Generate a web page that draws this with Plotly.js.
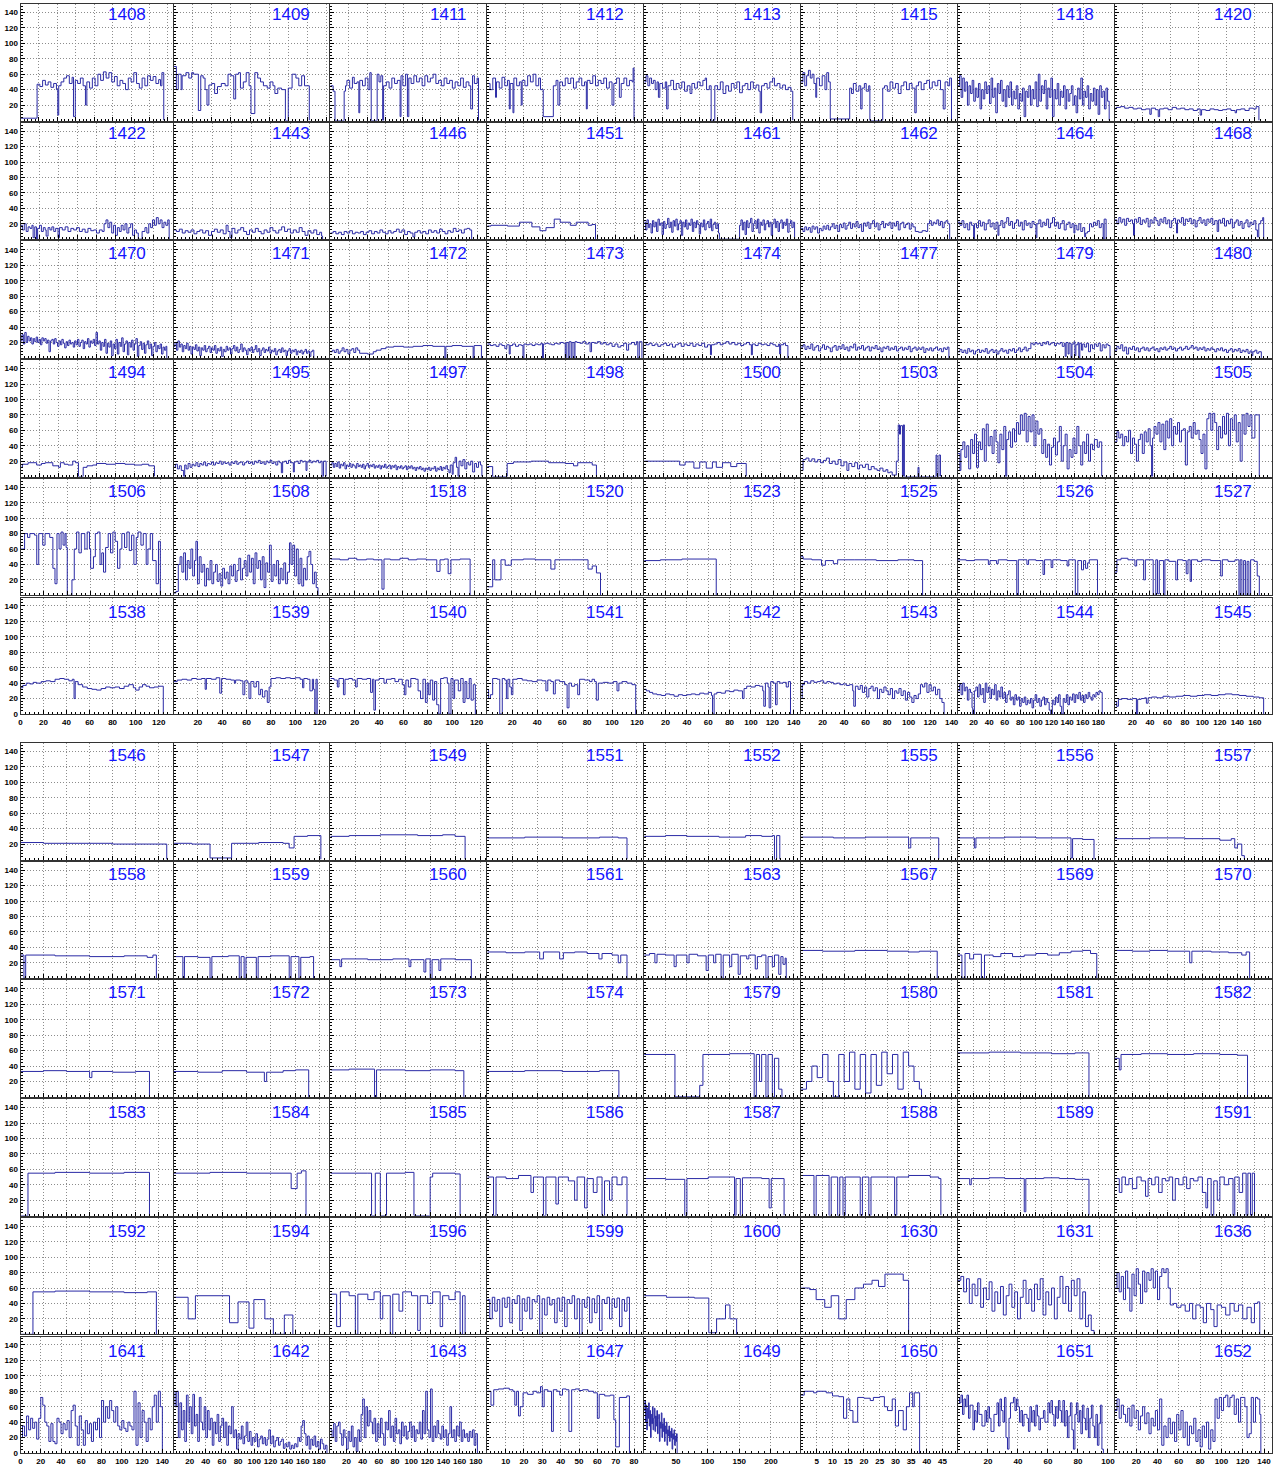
<!DOCTYPE html>
<html><head><meta charset="utf-8">
<script src="https://cdn.plot.ly/plotly-3.0.1.min.js"></script>
<style>html,body{margin:0;padding:0;background:#fff}#chart{width:1277px;height:1465px}</style>
</head><body><div id="chart"></div>
<script>
// ---- histogram data: [bin low edge, content] steps, last point closes to 0 ----
const h1408=[[0,3],[18,47],[21,44],[24,52],[27,46],[30,50],[33,43],[36,48],[39,40],[40.5,7],[41.5,45],[44,50],[47,55],[50,58],[53,48],[56,56],[57.5,5],[59.5,52],[62,48],[65,55],[68,45],[70.5,20],[72,50],[75,42],[78,55],[81,45],[84,60],[87,52],[90,63],[93,55],[96,62],[99,50],[102,57],[105,45],[108,52],[111,48],[114,40],[117,55],[120,50],[123,62],[126,48],[129,42],[132,55],[135,45],[138,58],[141,52],[144,57],[147,48],[150,53],[152,45],[153.5,62],[155.5,0]];
const h1409=[[0,70],[3,40],[5,60],[8,40],[9,58],[13,62],[16,55],[19,62],[21,60],[26,13],[28.5,58],[31,55],[33,40],[35,20],[37,46],[40,48],[43,35],[46,44],[50,48],[54,45],[57,60],[60,58],[63,28],[65,60],[68,62],[70,42],[73,50],[76,62],[79,45],[81,9],[85,62],[88,55],[91,50],[94,45],[98,42],[101,50],[104,45],[106,35],[109,42],[113,40],[117,0],[120,42],[124,60],[128,55],[131,45],[134,58],[137,45],[142,0]];
const h1411=[[0,45],[3,38],[5,0],[15,38],[16.5,45],[18,52],[21,42],[24,56],[26,48],[29,50],[31,10],[32,52],[35,45],[38,55],[41,40],[43,62],[44.5,0],[51,60],[53,50],[55,58],[57,0],[58,45],[61,50],[64,42],[67,55],[70,48],[73,52],[76,5],[77,58],[79,45],[82,60],[84,5],[85.5,55],[88,48],[91,58],[94,50],[97,55],[100,45],[103,58],[106,50],[109,55],[112,60],[115,48],[118,52],[121,45],[124,55],[127,48],[130,52],[133,42],[136,50],[139,45],[142,55],[145,43],[148,50],[151,45],[153,15],[155,58],[157,48],[160,55],[161.5,0]];
const h1412=[[0,48],[3,40],[6,55],[9,30],[10,50],[13,42],[16,56],[19,45],[22,52],[24,15],[25,48],[28,10],[29,55],[32,45],[35,50],[37,20],[38,52],[41,45],[44,58],[47,50],[50,60],[53,45],[56,55],[58,40],[61,5],[72,45],[75,52],[77,20],[79,50],[82,45],[85,55],[88,48],[91,55],[94,42],[97,50],[100,55],[103,45],[106,50],[108,15],[109,52],[112,48],[115,58],[118,45],[121,52],[124,48],[127,55],[130,42],[133,50],[136,20],[138,48],[141,55],[144,30],[146,48],[149,55],[152,45],[155,52],[158,50],[159,68],[160,0]];
const h1413=[[0,50],[2,58],[4,45],[6,55],[8,48],[10,52],[12,40],[14,50],[15.5,30],[17,48],[20,42],[23,50],[24.5,15],[26,45],[29,52],[32,40],[35,48],[38,42],[41,50],[44,38],[47,45],[50,35],[52,48],[55,42],[58,50],[61,45],[64,52],[66.5,55],[68,40],[71,45],[73,0],[77,45],[80,40],[83,50],[86,35],[89,45],[92,38],[95,48],[98,42],[101,50],[104,36],[107,45],[110,48],[113,40],[116,50],[119,42],[122,46],[125,38],[126.5,10],[128,45],[131,48],[134,42],[137,50],[140,55],[142,45],[145,48],[148,42],[151,46],[154,40],[157,43],[160,38],[162,0]];
const h1415=[[0,50],[2,62],[4,45],[6,58],[8,65],[10,55],[12,60],[14,48],[16,30],[17,55],[20,45],[23,58],[26,40],[28,62],[30,50],[31.8,2],[53,42],[55,35],[57,48],[60,38],[63,45],[65,15],[66.5,42],[69,48],[71,38],[73.7,45],[75,0],[89,42],[91,45],[94,38],[97,50],[100,42],[103,48],[106,35],[109,45],[112,50],[115,40],[118,48],[121,42],[124,10],[125.5,45],[128,50],[131,40],[134,48],[137,52],[140,42],[143,50],[146,45],[149,52],[152,40],[155,15],[157,50],[160,45],[162,55],[164,0]];
const h1418=[[0,45],[1,58],[2,30],[3,55],[4,38],[5,50],[6,20],[7,45],[8,35],[9,52],[10,25],[11,42],[12,30],[13,48],[14,15],[15,40],[16,28],[17,50],[18,35],[19,45],[20,22],[21,55],[22,30],[23,42],[24,10],[25,48],[26,35],[27,52],[28,25],[29,40],[30,18],[31,45],[32,30],[33,50],[34,20],[35,38],[36,28],[37,45],[38,15],[39,35],[40,25],[41,42],[42,5],[43,38],[44,30],[45,45],[46,20],[47,40],[48,28],[49,50],[50,18],[51,60],[52,25],[53,45],[54,35],[55,52],[56,15],[57,42],[58,30],[59,55],[60,5],[61,40],[62,28],[63,48],[64,20],[65,38],[66,30],[67,45],[68,15],[69,40],[70,25],[71,35],[72,45],[73,20],[74,32],[75,10],[76,42],[77,28],[78,55],[79,20],[80,38],[81,30],[82,45],[83,15],[84,35],[85,25],[86,42],[87,20],[88,40],[89,8],[90,45],[91,30],[92,38],[93,15],[94,42],[95,25],[96,0]];
const h1420=[[0,15],[1,17],[4,18],[7,16],[10,17],[13,15],[16,16],[19,14],[22,15],[25,8],[26,16],[29,14],[31,5],[32,15],[35,16],[38,14],[41,17],[44,15],[47,16],[50,14],[53,15],[56,13],[59,15],[61,7],[62,14],[65,13],[68,15],[71,14],[74,13],[77,14],[80,15],[83,13],[86,10],[87,14],[90,15],[93,13],[96,16],[99,15],[101,18],[103,0]];
const h1422=[[0,18],[2,12],[4,20],[6,10],[8,16],[10,14],[12,18],[13.3,2],[15,16],[16.8,0],[18,14],[20,18],[22,10],[24,15],[26,12],[27,4],[29,15],[31,12],[33,16],[35,10],[37,14],[39.5,2],[41,15],[44,12],[47,16],[50,10],[53,14],[56,12],[59,15],[62,10],[65,13],[68,9],[71,14],[74,11],[77,12],[80,8],[83,12],[86,10],[88,20],[90,25],[92,15],[94,22],[96,8],[98,18],[100,5],[102,15],[104,10],[106,18],[108,12],[110,20],[112,8],[114,15],[116,20],[118,5],[120,12],[122,8],[124,0],[128,10],[131,15],[133,8],[135,20],[137,15],[139,25],[141,18],[143,28],[145,20],[147,25],[149,15],[151,22],[153,18],[155,25],[156.5,0]];
const h1443=[[0,12],[3,10],[6,13],[9,8],[12,11],[15,9],[18,12],[21,7],[24,10],[27,12],[30,8],[33,11],[36,5],[39,10],[42,13],[45,9],[48,12],[51,7],[54,18],[56,10],[58,2],[60,14],[63,8],[66,12],[69,15],[72,10],[75,6],[78,12],[81,9],[84,14],[87,10],[90,7],[93,12],[96,9],[99,15],[102,11],[105,8],[108,12],[111,16],[114,10],[117,13],[120,8],[123,12],[126,9],[129,15],[132,10],[135,5],[138,11],[141,8],[144,12],[147,6],[150,9],[152,4],[153,0]];
const h1446=[[0,8],[3,10],[6,7],[9,9],[12,6],[15,10],[18,8],[21,11],[24,7],[27,9],[30,8],[33,10],[36,6],[39,9],[42,11],[45,7],[48,10],[51,8],[54,12],[57,9],[60,7],[63,11],[66,8],[69,10],[72,13],[75,9],[78,12],[81,6],[84,10],[87,8],[90,3],[92,9],[95,11],[98,8],[101,10],[104,7],[107,12],[110,9],[113,11],[116,8],[119,13],[122,10],[125,7],[128,11],[131,9],[134,14],[137,10],[140,12],[143,8],[146,13],[149,14],[152,12],[154,0]];
const h1451=[[0,17],[4,18],[22,17],[35,22],[48.6,16],[57.4,11],[64,15],[73,26],[79.5,22],[90.5,18],[97,22],[110,18],[114,19],[118,0]];
const h1461=[[0,22],[1.5,12],[3,25],[4.5,15],[6,20],[7.5,8],[9,24],[10.5,16],[12,22],[13.5,10],[15,26],[16.5,18],[18,21],[19.5,6],[21,23],[22.5,14],[24,19],[25.5,27],[27,15],[28.5,22],[30,9],[31.5,24],[33,17],[34.5,26],[36,12],[37.5,20],[39,24],[40.5,5],[42,22],[43.5,16],[45,25],[46.5,13],[48,21],[49.5,18],[51,26],[52.5,10],[54,22],[55.5,15],[57,24],[58.5,19],[60,7],[61.5,21],[63,16],[64.5,25],[66,12],[67.5,20],[69,23],[70.5,15],[72,26],[73.5,11],[75,19],[76.5,22],[78,14],[79.5,20],[81,8],[82,0],[104,18],[105.5,25],[107,12],[108.5,22],[110,6],[111.5,24],[113,15],[114.5,21],[116,27],[117.5,10],[119,20],[120.5,24],[122,14],[123.5,26],[125,8],[126.5,22],[128,18],[129.5,25],[131,12],[132.5,20],[134,24],[135.5,16],[137,22],[138.5,5],[140,20],[141.5,26],[143,15],[144.5,23],[146,10],[147.5,21],[149,25],[150.5,14],[152,22],[153.5,18],[155,26],[156.5,9],[158,20],[159.5,24],[161,15],[162.5,22],[164,0]];
const h1462=[[0,14],[2,10],[4,16],[6,12],[8,15],[10,9],[12,17],[14,13],[16,16],[18,8],[20,14],[22,11],[24,17],[26,13],[28,18],[30,12],[32,16],[34,20],[36,14],[38,18],[40,10],[42,19],[44,15],[46,21],[48,13],[50,18],[52,22],[54,14],[56,20],[58,16],[60,23],[62,15],[64,19],[66,10],[68,21],[70,17],[72,22],[74,14],[76,20],[78,24],[80,16],[82,21],[84,12],[86,19],[88,23],[90,15],[92,20],[94,18],[96,22],[98,14],[100,21],[102,17],[104,23],[106,12],[108,20],[110,22],[112,15],[114,19],[116,21],[118,13],[120,20],[122,16],[124.5,10],[128,9],[132,11],[136,10],[138,20],[140,24],[142,18],[144,22],[146,20],[148,25],[150,18],[152,23],[154,15],[156,22],[158,24],[160,20],[162,0]];
const h1464=[[0,22],[2,18],[4,24],[6,15],[8,20],[10,12],[12,22],[14,18],[16,0],[17,20],[19,15],[21,24],[23,17],[25,22],[27,12],[29,20],[31,25],[33,16],[35,21],[37,13],[39,22],[41,5],[42,18],[44,24],[46,15],[48,22],[50,28],[52,18],[54,23],[56,14],[58,21],[60,25],[62,17],[64,22],[66,12],[68,24],[70,18],[72,21],[74,15],[76,23],[78,19],[80,2],[81,20],[83,25],[85,16],[87,22],[89,18],[91,26],[93,15],[95,21],[97,28],[99,17],[101,22],[103,14],[105,20],[107,24],[109,12],[111,19],[113,22],[115,15],[117,20],[119,8],[120,18],[122,12],[124,20],[126,10],[128,15],[130,3],[131,8],[133,10],[135,20],[137,16],[139,22],[141,18],[143,24],[145,15],[147,20],[149,0],[150,26],[152,0]];
const h1468=[[0,25],[2,20],[4,28],[6,22],[8,26],[10,18],[12,27],[14,23],[16,25],[18,20],[19,5],[20,26],[22,22],[24,28],[26,19],[28,25],[30,22],[32,27],[34,16],[36,25],[38,21],[40,28],[42,24],[44,18],[46,26],[48,22],[50,28],[52,20],[54,25],[56,15],[58,24],[60,27],[62,21],[63,8],[64,25],[66,22],[68,28],[70,18],[72,26],[74,23],[76,27],[78,20],[80,25],[82,16],[84,24],[86,28],[88,21],[90,25],[92,18],[94,26],[96,22],[98,27],[100,19],[102,24],[104.5,10],[106,25],[108,21],[110,27],[112,17],[114,24],[116,20],[118,26],[120,15],[122,22],[124,25],[126,18],[128,23],[130,14],[132,21],[134,25],[136,16],[138,22],[140,19],[142,24],[144,12],[145.6,3],[147,20],[149,24],[151,28],[152,0]];
const h1470=[[0,22],[1.5,30],[3,18],[4.5,33],[6,20],[7.5,28],[9,22],[10.5,26],[12,18],[13.5,25],[15,21],[16.5,27],[18,20],[19.5,24],[21,17],[22.5,26],[24,22],[25.5,25],[27,19],[28.5,23],[30,8],[31.5,22],[33,24],[34.5,18],[36,25],[37.5,20],[39,15],[40.5,22],[42,17],[43.5,24],[45,19],[46.5,13],[48,21],[49.5,16],[51,23],[52.5,18],[54,20],[55.5,14],[57,22],[58.5,17],[60,24],[61.5,15],[63,20],[64.5,23],[66,12],[67.5,21],[69,18],[70.5,25],[72,14],[73.5,22],[75,19],[76.5,24],[78,16],[79.5,33],[81,18],[82.5,22],[84,10],[85.5,20],[87,15],[88.5,24],[90,6],[91.5,19],[93,14],[94.5,22],[96,3],[97.5,18],[99,12],[100.5,24],[102,5],[103.5,20],[105,15],[106.5,26],[108,8],[109.5,18],[111,22],[112.5,4],[114,20],[115.5,14],[117,23],[118.5,10],[120,18],[121.5,25],[123,2],[124.5,16],[126,21],[127.5,11],[129,19],[130.5,6],[132,17],[133.5,22],[135,12],[136.5,18],[138,3],[139.5,15],[141,20],[142.5,8],[144,16],[145.5,12],[147,18],[148.5,5],[150,14],[151.5,10],[153,15],[154,0]];
const h1471=[[0,15],[1.5,20],[3,10],[4.5,22],[6,14],[7.5,18],[9,8],[10.5,16],[12,12],[13.5,19],[15,10],[16.5,15],[18,5],[19.5,14],[21,11],[22.5,17],[24,9],[25.5,14],[27,3],[28.5,13],[30,10],[31.5,16],[33,8],[34.5,12],[36,15],[37.5,7],[39,13],[40.5,10],[42,16],[43.5,6],[45,12],[46.5,9],[48,14],[49.5,2],[51,11],[52.5,8],[54,15],[55.5,10],[57,13],[58.5,5],[60,12],[61.5,16],[63,9],[64.5,14],[66,7],[67.5,11],[69,18],[70.5,8],[72,13],[73.5,10],[75,4],[76.5,12],[78,9],[79.5,14],[81,7],[82.5,11],[84,16],[85.5,8],[87,12],[88.5,3],[90,10],[91.5,13],[93,7],[94.5,11],[96,9],[97.5,14],[99,6],[100.5,10],[102,8],[103.5,12],[105,4],[106.5,9],[108,11],[109.5,7],[111,13],[112.5,8],[114,10],[115.5,3],[117,9],[118.5,12],[120,6],[121.5,10],[123,8],[124.5,11],[126,4],[127.5,9],[129,7],[130.5,10],[132,5],[133.5,8],[135,11],[136.5,6],[138,9],[139.5,2],[141,8],[142.5,10],[144,0]];
const h1472=[[0,8],[2,10],[4,7],[6,11],[8,6],[10,9],[12,13],[14,8],[16,11],[18,5],[20,10],[22,12],[24,7],[26,13],[28,10],[30,6],[38,5],[44,8],[47,10],[52,12],[57,14],[65,15],[75,14],[85,15],[95,16],[105,15],[117.5,0],[118.5,15],[125,16],[135,15],[146.5,0],[147.5,16],[155,0]];
const h1473=[[0,18],[3,16],[6,17],[9,15],[12,18],[15,16],[18,12],[20,17],[22.5,5],[23.5,16],[26,18],[29,15],[32,17],[35,16],[36.6,0],[37.6,18],[40,17],[43,18],[46,16],[49,18],[52,17],[55,19],[56.6,0],[57.6,18],[60,19],[63,18],[66,17],[69,19],[72,18],[75,20],[78,19],[80,0],[81,20],[83,0],[84,21],[86,0],[87,20],[89,0],[90,21],[92,20],[95,19],[98,21],[101,18],[104,20],[105.5,8],[107,20],[110,19],[113,21],[116,18],[119,20],[122,17],[125,19],[128,15],[131,18],[134,14],[137,16],[140,19],[143,10],[145,18],[148,20],[151,17],[153,21],[154.5,0],[156,21],[158.7,0]];
const h1474=[[0,20],[2,17],[5,19],[8,16],[11,18],[14,15],[17,17],[20,19],[23,16],[26,18],[29,14],[32,17],[35,19],[38,15],[41,18],[44,16],[47,19],[50,15],[53,18],[56,16],[59,19],[62,14],[65,17],[68,4],[69,17],[72,18],[75,20],[78,17],[81,19],[84,21],[87,18],[90,20],[93,17],[96,19],[99,16],[102,18],[105,20],[108,17],[110,4],[111,18],[114,16],[117,19],[120,17],[123,18],[126,16],[129,19],[132,17],[135,15],[138,18],[139,5],[140,17],[143,19],[145,16],[147.5,0]];
const h1477=[[0,14],[2,17],[4,11],[6,15],[8,12],[10,18],[12,10],[14,14],[16,16],[18,9],[20,13],[22,17],[24,11],[26,15],[28,13],[30,8],[32,14],[34,16],[36,10],[38,15],[40,12],[42,17],[44,11],[46,14],[48,9],[50,15],[52,13],[54,18],[56,10],[58,14],[60,12],[62,16],[64,10],[66,13],[68,15],[70,9],[72,14],[74,12],[76,16],[78,11],[80,13],[82,8],[84,14],[86,12],[88,15],[90,10],[92,13],[94,11],[96,15],[98,9],[100,12],[102,14],[104,10],[106,13],[108,11],[110,15],[112,8],[114,12],[116,14],[118,10],[120,13],[122,11],[124,14],[126,7],[128,12],[130,10],[132,13],[134,9],[136,12],[138,14],[140,10],[142,12],[144,8],[146,13],[148,11],[150,14],[151.7,0]];
const h1479=[[0,8],[2,11],[4,7],[6,10],[8,6],[10,12],[12,8],[14,10],[16,5],[18,9],[20,11],[22,7],[24,10],[26,8],[28,12],[30,6],[32,9],[34,11],[36,7],[38,10],[40,5],[42,9],[44,12],[46,8],[48,10],[50,6],[52,11],[54,9],[56,12],[58,7],[60,10],[62,13],[64,8],[66,11],[68,14],[70,9],[72,12],[74.8,19],[77,17],[79,20],[81,18],[83,19],[85,16],[87,20],[89,18],[91,21],[93,17],[95,19],[97,20],[99,16],[101,19],[103,18],[105,20],[107,15],[109,19],[110,2],[111,20],[113,5],[114,19],[116,0],[117,18],[119,21],[120,3],[121,17],[123,20],[124,0],[125,19],[126.8,10],[128,18],[130,14],[132,19],[134,8],[136,17],[138,12],[140,18],[142,15],[144,19],[146,9],[148,17],[150,13],[152,18],[154,16],[156,0]];
const h1480=[[0,10],[2,15],[4,12],[6,17],[8,9],[10,14],[12,5],[14,13],[16,11],[18,15],[20,10],[22,13],[24,8],[26,12],[28,14],[30,10],[32,13],[34,9],[36,12],[38,14],[40,10],[42,12],[44,8],[46,13],[48,11],[50,14],[52,10],[54,12],[56,15],[58,11],[60,13],[62,9],[64,12],[66,14],[68,10],[70,12],[72,15],[74,11],[76,13],[78,16],[80,12],[82,14],[84,10],[86,13],[88,11],[90,14],[92,9],[94,12],[96,10],[98,13],[100,11],[102,8],[104,12],[106,10],[108,13],[110,9],[112,11],[114,7],[116,10],[118,12],[120,8],[122,11],[124,9],[126,12],[128,7],[130,10],[132,8],[134,11],[136,6],[138,9],[140,3],[141,8],[143,10],[145,6],[147,8],[149.6,0]];
const h1494=[[0,12],[2,16],[8,18],[17,15],[22,17],[26,18],[34,14],[40,12],[42,18],[46,16],[50,15],[55,20],[58,18],[61,0],[66,12],[70,14],[76,15],[80,17],[90,16],[100,17],[110,16],[120,15],[128,16],[135,14],[141,0]];
const h1495=[[0,12],[2,16],[4,10],[6,14],[8,8],[10.4,0],[11.5,15],[13,10],[15,17],[17,12],[19,16],[21,14],[23,18],[25,13],[27,17],[29,15],[31,19],[33,14],[35,17],[37,16],[39,19],[41,15],[43,18],[45,17],[47,20],[49,16],[51,19],[53,17],[55,18],[57,15],[59,19],[61,17],[63,20],[65,16],[67,18],[69,19],[71,15],[73,18],[75,20],[77,17],[79,19],[81,16],[83,20],[85,18],[87,21],[89,17],[91,19],[93,16],[95,20],[97,18],[99,21],[101,17],[103,19],[105,15],[107,20],[109,18],[110.7,5],[112,19],[114,20],[116,17],[118,21],[120,18],[123,6],[124,19],[126,20],[128,17],[130,21],[132,19],[134,20],[136,8],[137,19],[139,21],[141,18],[143,20],[145,19],[147,21],[149,18],[151,20],[152.5,0],[154,20],[156.6,0]];
const h1497=[[0,15],[1.5,18],[3,12],[4.5,17],[6,13],[7.5,19],[9,11],[10.5,16],[12,14],[13.5,18],[15,10],[16.5,15],[18,13],[19.5,17],[21,12],[22.5,16],[24,14],[25.5,11],[27,17],[28.5,13],[30,15],[31.5,12],[33,16],[34.5,10],[36,14],[37.5,17],[39,12],[40.5,15],[42,13],[43.5,16],[45,11],[46.5,14],[48,12],[49.5,15],[51,10],[52.5,14],[54,12],[55.5,16],[57,11],[58.5,13],[60,15],[61.5,10],[63,14],[64.5,12],[66,15],[67.5,9],[69,13],[70.5,11],[72,14],[73.5,10],[75,12],[76.5,14],[78,9],[79.5,13],[81,11],[82.5,14],[84,10],[85.5,12],[87,8],[88.5,12],[90,10],[91.5,13],[93,9],[94.5,11],[96,7],[97.5,11],[99,9],[100.5,12],[102,8],[103.5,11],[105,10],[106.5,13],[108,7],[109.5,11],[111,9],[112.5,13],[114,8],[115.5,12],[117,10],[118.5,14],[120,9],[121.7,5],[123,15],[125,3],[126,18],[128,25],[129.5,12],[131,0],[132,20],[134,14],[136,22],[138,10],[140,18],[142,15],[144,20],[146,6],[148,17],[150,12],[152,19],[154,15],[155.5,0]];
const h1498=[[0,13],[5.5,0],[20.4,17],[26.8,19],[45,20],[63,18],[80,17],[88.5,14],[92.8,18],[107.7,15],[112,0]];
const h1500=[[0,20],[36.4,15],[42,19],[51,11],[57,19],[63.7,11],[70,19],[74,12],[80.4,18],[88.8,13],[95,17],[104.7,0]];
const h1503=[[0,8],[2,22],[5,24],[8,20],[11,23],[14,19],[17,22],[20,18],[23,21],[26,24],[29,17],[32,20],[35,16],[38,22],[41,14],[44,19],[47,8],[49,17],[52,13],[55,18],[58,10],[60,15],[63,12],[66,16],[69,9],[72,13],[75,10],[78,8],[81,11],[84,7],[87,9],[89,5],[91,6],[93.5,2],[97.7,20],[99.7,67],[101,55],[102,66],[104,0],[105,67],[106,0],[120,12],[121,0],[138.5,28],[139.5,0],[141.5,28],[143,0]];
const h1504=[[0,30],[2,8],[3,35],[5,45],[7,25],[9,40],[11,10],[13,48],[15,30],[17,55],[19,12],[21,45],[23,35],[25,62],[27,20],[29,68],[31,40],[33,52],[35,30],[37,60],[39,45],[41,18],[43,55],[45,35],[47,65],[49,0],[50,48],[52,58],[54,38],[56,62],[58,45],[60,70],[62,55],[64,80],[66,60],[68,82],[70,45],[72,78],[74,58],[76,80],[78,40],[80,72],[82,55],[84,62],[86,30],[88,48],[90,25],[92,42],[94,15],[96,38],[98,50],[100,28],[102,45],[104,65],[106,20],[108,40],[110,55],[112,10],[114,35],[116,25],[118,50],[120,30],[122,65],[124,40],[126,15],[128,45],[130,30],[132,55],[134,20],[136,42],[138,35],[140,48],[143,38],[145,45],[147.5,0]];
const h1505=[[0,45],[2,58],[4,50],[6,55],[8,40],[10,52],[12,45],[14,60],[16,30],[18,50],[20,42],[22,20],[24,48],[26,55],[28,30],[30,58],[32,45],[34,62],[36,40],[37.5,0],[38.5,50],[40,65],[42,55],[44,70],[46,45],[48,68],[50,35],[52,72],[54,50],[56,75],[58,40],[60,65],[62,55],[64,70],[66,45],[68,60],[70,62],[72,15],[74,58],[76,65],[78,50],[80,70],[82,55],[84,60],[86,48],[88,30],[90,55],[92,10],[94,75],[96,82],[98,60],[100,82],[102,70],[104,35],[106,65],[108,50],[110,78],[112,55],[114,82],[116,40],[118,75],[120,60],[122,80],[124,45],[126,70],[128,20],[130,80],[132,55],[134,82],[136,65],[138,80],[140,50],[143,80],[147.5,0]];
const h1506=[[0,60],[3.5,80],[6,75],[8,80],[12,78],[13.9,40],[15.6,80],[19,65],[21,80],[25,75],[27.7,35],[29.5,15],[31.2,80],[33,60],[34.7,82],[36.4,65],[38,80],[39,62],[40,0],[44,20],[46,60],[48,82],[50,55],[52,80],[55,60],[57,82],[59,60],[60,35],[62.4,50],[64,80],[66,82],[68,40],[69.5,55],[71,30],[72.8,62],[75,80],[77,55],[79,82],[81,70],[83,35],[85,60],[86.7,80],[89,62],[91,82],[93,58],[95,78],[97,40],[99,75],[100.5,82],[103,65],[105,80],[107.5,40],[109,60],[111,80],[113,45],[116,15],[118,70],[119.6,0]];
const h1508=[[0,3],[2,5],[4,40],[5.5,50],[7,30],[8.5,55],[10,20],[11.5,45],[13,35],[14.5,60],[16,25],[17.5,45],[18.7,70],[20,15],[21.5,50],[23,30],[24.5,40],[26,12],[27.5,35],[29,20],[30.5,45],[32,15],[33.5,30],[35,40],[36.5,18],[38,28],[39.5,12],[41,35],[42.5,22],[44,30],[45.5,15],[47,38],[48.5,25],[50,40],[51.5,18],[53,32],[54.5,48],[56,20],[57.5,35],[59,45],[60.5,25],[62,52],[63.5,30],[65,48],[66.5,15],[68,55],[69.5,35],[71,45],[72.5,20],[74,50],[75.5,10],[77,42],[78.5,30],[80,65],[81.5,18],[83,40],[84.5,25],[86,45],[87.5,15],[89,35],[90.5,20],[92,42],[93.5,15],[95,30],[96.7,68],[98,40],[99.5,65],[101,25],[102.5,60],[104,15],[105.5,48],[107,12],[108.5,35],[110,20],[111.5,50],[113,57],[114.5,40],[116,15],[117.5,30],[119,10],[120.5,0]];
const h1518=[[0,47],[8,46],[15,48],[22,46],[30,47],[36,46],[43,8],[44.7,47],[50,46],[58,48],[65,46],[72,47],[80,46],[88.7,31],[91.4,46],[95,47],[98.2,28],[100.5,46],[108,47],[116.5,0]];
const h1520=[[0,11],[4.5,46],[6.2,20],[11.4,46],[14.9,39],[20,46],[30,47],[40,46],[53,34],[56.4,46],[70,46],[84,34],[87.5,38],[91,29],[94.4,0]];
const h1523=[[0,45],[15,46],[35,47],[67,0]];
const h1525=[[0,50],[2,47],[10,46],[19,39],[22.6,45],[30,41],[34,46],[50,46],[70,45],[90,46],[105,45],[113,0]];
const h1526=[[0,46],[10,45],[20,46],[37,40],[39,45],[47,41],[49,46],[60,45],[71.6,0],[73.5,46],[84,40],[86,46],[95,45],[103.6,27],[105.5,46],[113.5,36],[115.5,46],[125,45],[133,38],[135,46],[143,0],[146,45],[150.5,33],[153,45],[155.5,35],[158,42],[160,46],[170,0]];
const h1527=[[0,30],[2.3,46],[7,48],[15,46],[23,38],[25,46],[33,20],[35,46],[44,0],[47,46],[49,2],[51,45],[56,0],[57.5,46],[62,44],[70,20],[72,46],[78,45],[82,28],[84,46],[86.5,18],[88,46],[95,44],[100,46],[110,45],[121.6,25],[123.5,46],[130,44],[138,46],[142.6,0],[144,46],[146,0],[148,45],[150,0],[152,44],[154,0],[156,46],[160,44],[163.6,25],[166,0]];
const h1538=[[0,34],[2,37],[5,40],[8,39],[11,41],[14,40],[18,42],[22,43],[26,42],[30,45],[34,46],[38,45],[42,43],[45,45],[46.5,20],[47.5,42],[50,38],[54,35],[58,33],[62,32],[66,31],[70,33],[74,35],[78,34],[82,35],[86,33],[90,36],[94,38],[98,34],[100,31],[103,35],[106,38],[109,36],[112,34],[116,35],[120,36],[124,0]];
const h1539=[[0,42],[3,44],[7,45],[11,44],[15,46],[19,45],[23,46],[26,32],[27,46],[31,45],[35,47],[38,27],[39.5,46],[43,45],[47,44],[50,40],[51,44],[55,43],[57,25],[58.5,43],[61,40],[62,20],[63.5,42],[66,35],[68,42],[70,25],[71.5,32],[73,22],[75,30],[77,15],[78.5,35],[80,46],[84,47],[88,46],[92,47],[96,46],[100,47],[104,45],[106,34],[107,46],[110,45],[112,30],[114,45],[115,32],[116,0],[117,45],[118,0]];
const h1540=[[0,46],[3,44],[5.7,35],[7,46],[10.7,25],[12,45],[15,46],[18,44],[20.7,35],[22,46],[26,45],[30,46],[33,28],[34.5,45],[35.7,5],[37,44],[40,46],[44,40],[46,45],[50,46],[53,42],[56,45],[59,38],[60.7,25],[62,44],[64,35],[66,46],[70,45],[72,30],[74,20],[76,45],[78,15],[79.5,40],[80.7,25],[82,44],[84,18],[85.5,42],[87.3,12],[89,0],[90.5,46],[93,47],[96,40],[97.3,0],[99,46],[100.7,20],[102,44],[105,30],[107,46],[109,15],[110.5,42],[112,20],[114,46],[115.5,18],[117.3,38],[119,0]];
const h1541=[[0,32],[1,20],[2.5,25],[4.3,46],[8,45],[10,0],[12,46],[14,44],[15.3,20],[16.5,45],[18,35],[19.3,25],[20.5,45],[24,46],[28,44],[32,43],[36,42],[40,44],[44,43],[47,30],[48.5,44],[51,42],[53,26],[54.5,44],[58,42],[62,38],[64,8],[65.5,40],[67.5,36],[70,38],[72.5,25],[74,45],[78,44],[82,42],[84,45],[86,42],[87.4,18],[89,40],[93,41],[97,40],[101,42],[104,30],[105.5,40],[108,42],[112,40],[116,38],[119,0]];
const h1542=[[0,32],[2,30],[5,28],[8,26],[12,25],[16,24],[20,26],[24,25],[28,23],[32,25],[36,24],[40,25],[44,26],[48,25],[52,27],[56,26],[60,28],[63,24],[64,0],[65.5,26],[68,28],[72,27],[76,30],[80,29],[84,31],[88,30],[92,20],[93.5,33],[96,36],[100,35],[104,37],[108,36],[111,30],[112,10],[113.5,40],[116,35],[117,8],[118.5,42],[121,40],[123,12],[124.5,42],[127,40],[130,41],[133,35],[135,42],[137,0]];
const h1543=[[0,20],[1,38],[3,42],[6,40],[9,43],[12,41],[15,42],[18,43],[21,40],[24,42],[27,41],[30,39],[33,40],[36,38],[39,39],[42,37],[45,38],[48,30],[49,10],[50.5,36],[53,32],[55,37],[57,28],[59,35],[61,22],[63,33],[65,36],[67,30],[69,34],[71,20],[73,32],[75,28],[77,35],[79,30],[81,25],[83,33],[85,20],[87,30],[89,27],[91,33],[93,24],[95,30],[97,18],[99,28],[101,22],[103,15],[105,24],[107,20],[109,26],[111,38],[113,35],[115,40],[117,28],[119,38],[121,30],[123,35],[125,25],[127,32],[129,20],[131,15],[133,0]];
const h1544=[[0,30],[2,38],[4,25],[6,40],[8,30],[10,35],[12,18],[14,32],[16,28],[18,8],[19,0],[21,30],[23,35],[25,22],[27,38],[29,25],[31,33],[33,15],[35,40],[37,28],[39,35],[41,20],[43,32],[45,25],[47,38],[49,18],[51,30],[53,22],[55,35],[57,20],[59,28],[61,15],[63,25],[65,30],[67,18],[69,22],[71,12],[73,25],[75,18],[77,22],[79,10],[81,20],[83,15],[85,22],[87,12],[89,18],[91,14],[93,20],[95,8],[97,18],[99,25],[101,15],[103,20],[105,10],[107,18],[109,22],[111,12],[113,20],[115,15],[117,5],[119,0],[121,18],[123,12],[125,22],[127,15],[129,25],[131,10],[133,0],[135,20],[137,15],[139,25],[141,12],[143,22],[145,18],[147,26],[149,15],[151,25],[153,20],[155,28],[157,18],[159,24],[161,15],[163,25],[165,20],[167,28],[169,22],[171,18],[173,25],[175,22],[177,28],[179,25],[181,30],[183,28],[185,0]];
const h1545=[[0,16],[2,10],[4,19],[8,20],[14,19],[20,20],[24.6,0],[26,19],[30,20],[34,21],[36,14],[38,21],[42,22],[48,21],[55,23],[62,22],[70,23],[78,24],[86,23],[94,24],[102,25],[110,24],[118,25],[126,26],[134,25],[142,24],[150,23],[158,22],[165,21],[170,0]];
const h1546=[[0,22],[20,21],[50,21],[80,20],[110,20],[127,0]];
const h1547=[[0,21],[15,20],[30,2],[47.7,21],[70,22],[90,21],[95,15],[99,30],[110,31],[121,0]];
const h1549=[[0,30],[15,31],[40,32],[70,31],[90,32],[100,30],[108,0]];
const h1551=[[0,28],[30,29],[60,28],[90,29],[105,28],[112,0]];
const h1552=[[0,30],[20,31],[40,30],[70,29],[95,31],[110,30],[120,31],[122,0],[124,31],[127,0]];
const h1555=[[0,29],[30,28],[60,29],[100,15],[102,28],[128,0]];
const h1556=[[0,28],[21,15],[23,28],[60,29],[100,28],[145,2],[147,27],[160,26],[174.5,0]];
const h1557=[[0,27],[40,28],[80,27],[120,25],[133,27],[137,15],[140,20],[145,5],[148,0]];
const h1558=[[0,30],[3,0],[4.5,30],[30,29],[60,28],[90,29],[110,27],[115,30],[118,0]];
const h1559=[[0,28],[7.7,0],[9,28],[20,27],[30,0],[31.5,28],[45,29],[54,0],[55.5,28],[58,0],[59.5,27],[68,0],[69.5,28],[80,29],[95,0],[96.5,28],[103,0],[104.5,27],[112,28],[115,0]];
const h1560=[[0,24],[7.6,15],[9,25],[30,24],[50,25],[63,15],[64.5,24],[75,8],[76.5,25],[80,0],[81.5,24],[87,10],[88.5,25],[100,24],[113,0]];
const h1561=[[0,34],[15,33],[30,34],[42,25],[45,34],[58,25],[61,33],[70,34],[80,32],[89.5,25],[92,32],[100,30],[105,20],[107,30],[112,0]];
const h1563=[[0,30],[5,32],[10,20],[12,31],[20,30],[28,15],[30,30],[40,20],[42,31],[50,29],[58,10],[60,30],[65,20],[67,31],[72,0],[74,30],[80,15],[82,31],[88,5],[90,29],[96,25],[98,30],[104,12],[106,28],[110,30],[114,0],[116,28],[120,15],[122,30],[126,5],[128,28],[130,18],[132,26],[133,0]];
const h1567=[[0,36],[20,35],[50,36],[80,35],[100,34],[110,35],[126.6,0]];
const h1569=[[0,30],[5,0],[9,32],[15,25],[20,31],[30,0],[34,30],[45,28],[55,32],[70,28],[85,30],[100,32],[115,30],[130,33],[145,35],[160,36],[170,32],[178,0]];
const h1570=[[0,36],[20,35],[40,36],[60,35],[85.5,20],[88,35],[110,34],[130,33],[145,30],[150,34],[154,0]];
const h1571=[[0,33],[20,34],[40,33],[60,25],[62,33],[80,32],[100,33],[112,0]];
const h1572=[[0,33],[20,32],[40,34],[60,32],[74.6,20],[76.5,32],[90,34],[100,35],[111,0]];
const h1573=[[0,35],[15,36],[35.4,0],[37,35],[60,34],[80,35],[100,34],[107,0]];
const h1574=[[0,33],[30,34],[60,33],[90,34],[105.5,0]];
const h1579=[[0,55],[28.8,0],[52,15],[55,55],[80,56],[103,0],[105,55],[108,20],[110,55],[114,0],[116,55],[120,0],[122,50],[126,10],[129,0]];
const h1580=[[0,10],[5,20],[10,40],[15,25],[20,55],[25,20],[30,0],[35,55],[40,20],[45,58],[50,10],[55,55],[60,5],[65,55],[70,15],[75,58],[80,30],[85,55],[90,10],[95,58],[100,40],[105,20],[110,10],[112,0]];
const h1581=[[0,57],[40,58],[80,57],[120,56],[150,57],[168,0]];
const h1582=[[0,50],[5,35],[7,55],[30,56],[60,55],[90,56],[120,55],[140,54],[151.6,0]];
const h1583=[[0,0],[6.5,55],[30,56],[60,55],[90,56],[112,0]];
const h1584=[[0,55],[30,56],[60,55],[96.6,35],[101.5,55],[105,58],[108.8,0]];
const h1585=[[0,55],[30,55],[33,0],[36,55],[40,0],[45,55],[60,56],[67,0],[80,50],[82,55],[100,54],[104,0]];
const h1586=[[0,50],[5,0],[7,50],[15,48],[25,52],[35,30],[37,50],[45,0],[47,50],[55,15],[57,50],[65,45],[70,20],[72,50],[78,10],[80,48],[85,30],[88,50],[92,0],[94,45],[98,20],[100,50],[104,40],[108,50],[112,0]];
const h1587=[[0,48],[20,47],[38,0],[40,48],[60,50],[84.6,0],[86,48],[90,0],[92,49],[110,48],[117,10],[119,48],[131,0]];
const h1588=[[0,52],[12,0],[14,52],[26,0],[28,50],[34,0],[36,50],[39,0],[41,50],[55,0],[57,50],[63,0],[65,50],[87,0],[89,50],[100,52],[120,50],[128,48],[130,0]];
const h1589=[[0,48],[15,40],[17,48],[40,49],[60,48],[85,5],[87,48],[110,49],[130,48],[150,47],[168,0]];
const h1591=[[0,48],[5,30],[8,50],[12,40],[16,48],[20,35],[25,50],[30,45],[35,25],[38,48],[42,40],[46,50],[50,30],[54,48],[58,45],[62,50],[66,20],[69,48],[73,40],[78,50],[82,35],[86,48],[90,45],[95,50],[100,30],[104,10],[106,48],[110,0],[113,45],[117,20],[120,50],[125,40],[130,48],[135,0],[137,50],[142,30],[146,55],[150,0],[152,55],[155,0],[157,55],[159.6,0]];
const h1592=[[0,0],[10.8,55],[30,56],[60,55],[90,54],[110,55],[118,0]];
const h1594=[[0,48],[12,20],[18,50],[46,15],[53,42],[62,8],[66,45],[75,20],[82,0],[91,25],[98,0]];
const h1596=[[0,52],[5,10],[8,55],[15,50],[20,0],[22,52],[30,45],[35,55],[40,20],[42,50],[48,0],[50,52],[55,30],[58,55],[65,50],[70,5],[72,50],[78,40],[82,55],[88,10],[90,50],[95,45],[100,55],[104,0],[106,50],[108,0]];
const h1599=[[0,45],[2,20],[4,48],[6,30],[8,45],[10,10],[12,47],[14,35],[16,48],[18,15],[20,45],[22,40],[24,50],[26,5],[28,46],[30,30],[32,48],[34,20],[36,45],[38,42],[40,50],[42,0],[44,46],[46,25],[48,48],[50,38],[52,45],[54,15],[56,47],[58,30],[60,48],[62,10],[64,45],[66,40],[68,50],[70,20],[72,46],[74,0],[76,45],[78,35],[80,48],[82,15],[84,46],[86,28],[88,50],[90,5],[92,45],[94,40],[96,48],[98,20],[100,46],[102,35],[104,47],[106,10],[108,45],[110,30],[112,48],[114,0]];
const h1600=[[0,50],[20,48],[45,47],[58,2],[65,20],[73,38],[77,20],[83,0]];
const h1630=[[0,60],[8,58],[14,45],[22,35],[28,50],[35,20],[42,45],[50,60],[58,65],[66,70],[72,62],[78,78],[90,78],[95,70],[100,0]];
const h1631=[[0,70],[2,75],[4,55],[6,72],[8,40],[10,65],[12,50],[14,72],[16,35],[18,60],[20,45],[22,68],[24,30],[26,55],[28,40],[30,62],[32,25],[34,50],[36,65],[38,35],[40,55],[42,20],[44,48],[46,70],[48,40],[50,58],[52,30],[54,65],[56,45],[58,72],[60,25],[62,55],[64,38],[66,60],[68,20],[70,48],[72,75],[74,40],[76,62],[78,30],[80,70],[82,50],[84,72],[86,20],[88,55],[90,10],[92,25],[94,5],[96,0]];
const h1636=[[0,60],[2,80],[4,55],[6,75],[8,45],[10,82],[12,60],[14,30],[16,78],[18,50],[20,85],[22,65],[24,40],[26,82],[28,55],[30,80],[32,70],[34,85],[36,60],[38,82],[40,45],[42,75],[44,85],[46,80],[48,85],[50,60],[52,38],[55,40],[58,35],[62,38],[66,30],[70,40],[73,20],[76,38],[80,35],[83,15],[86,40],[90,32],[93,10],[96,38],[100,35],[104,25],[108,40],[112,30],[116,38],[120,20],[124,35],[128,15],[131,40],[134,42],[136,0]];
const h1641=[[0,20],[2,35],[4,22],[6,48],[8,30],[10,45],[12,32],[14,40],[16,18],[18,45],[20,72],[22,62],[24,40],[26,35],[28,15],[30,38],[32,15],[34,12],[36,45],[38,40],[40,25],[42,38],[44,30],[46,42],[48,20],[50,55],[52,62],[54,35],[56,10],[58,48],[60,30],[62,10],[64,42],[66,25],[68,38],[70,15],[72,40],[74,30],[76,45],[78,20],[80,68],[82,40],[84,60],[86,45],[88,68],[90,55],[92,40],[94,60],[96,35],[98,30],[100,42],[102,32],[104,28],[106,40],[108,35],[110,30],[112,80],[114,10],[116,65],[118,20],[120,55],[122,40],[124,15],[126,45],[128,30],[130,60],[132,75],[134,40],[136,80],[138,60],[140,0]];
const h1642=[[0,80],[2,60],[4,80],[6,20],[8,65],[10,30],[12,55],[14,15],[16,75],[18,40],[20,60],[22,25],[24,76],[26,35],[28,50],[30,15],[32,72],[34,40],[36,30],[38,60],[40,20],[42,55],[44,30],[46,45],[48,10],[50,40],[52,25],[54,50],[56,15],[58,35],[60,45],[62,20],[64,40],[66,10],[68,35],[70,25],[72,60],[74,20],[76,30],[78,5],[80,25],[82,18],[84,35],[86,12],[88,22],[90,40],[92,15],[94,28],[96,10],[98,20],[100,15],[102,25],[104,8],[106,18],[108,22],[110,12],[112,20],[114,10],[116,18],[118,30],[120,12],[122,22],[124,8],[126,16],[128,20],[130,10],[132,15],[134,18],[136,6],[138,12],[140,8],[142,14],[144,5],[146,10],[148,6],[150,12],[152,8],[154,20],[156,15],[158,35],[160,42],[162,25],[164,10],[166,22],[168,5],[170,18],[172,10],[174,22],[176,8],[178,15],[180,5],[182,18],[184,12],[186,5],[188,10],[190,0]];
const h1643=[[0,30],[2,20],[4,38],[6,15],[8,35],[10,40],[12,25],[14,10],[16,30],[18,20],[20,5],[22,28],[24,15],[26,35],[28,8],[30,20],[32,2],[34,30],[36,15],[38,50],[40,70],[42,20],[44,60],[46,35],[48,55],[50,40],[52,25],[54,45],[56,15],[58,38],[60,20],[62,45],[64,25],[66,10],[68,40],[70,30],[72,55],[74,20],[76,35],[78,15],[80,45],[82,25],[84,30],[86,12],[88,40],[90,22],[92,35],[94,18],[96,28],[98,40],[100,20],[102,35],[104,15],[106,30],[108,25],[110,40],[112,18],[114,55],[116,25],[118,80],[120,30],[122,20],[124,83],[126,15],[128,35],[130,20],[132,42],[134,25],[136,18],[138,35],[140,20],[142,30],[144,10],[146,25],[148,60],[150,20],[152,30],[154,15],[156,35],[158,22],[160,40],[162,15],[164,30],[166,20],[168,25],[170,15],[172,28],[174,20],[176,30],[178,10],[180,25],[182,0]];
const h1647=[[0,80],[2,62],[3.5,82],[6,83],[9,84],[12,82],[14,80],[15,62],[16,80],[17,48],[18,60],[19.5,78],[22,76],[25,80],[27,78],[29,86],[30,60],[31,82],[33,80],[35,28],[36,82],[38,80],[39.5,75],[41,83],[43,82],[44.5,28],[46,82],[48,83],[50,81],[52,82],[55,80],[58,78],[60,45],[61,76],[64,74],[67,75],[69,43],[70,8],[72,72],[76,74],[77.5,0]];
const h1649=[[0,55],[1,68],[2,40],[3,62],[4,30],[5,58],[6,45],[7,65],[8,35],[9,55],[10,20],[11,50],[12,38],[13,60],[14,30],[15,45],[16,58],[17,28],[18,48],[19,35],[20,55],[21,25],[22,45],[23,50],[24,15],[25,40],[26,32],[27,52],[28,20],[29,38],[30,28],[31,45],[32,15],[33,35],[34,25],[35,40],[36,10],[37,30],[38,22],[39,35],[40,15],[41,28],[42,20],[43,32],[44,5],[45,25],[46,18],[47,30],[48,10],[49,22],[50,15],[51,25],[52,0]];
const h1650=[[0,75],[1,80],[4,78],[5,80],[8,78],[10,74],[12,73],[13.5,45],[14.5,70],[15.5,55],[16.5,40],[18,72],[20,71],[22,68],[23,72],[25,73],[26.5,60],[27.5,55],[29,70],[30,35],[31,55],[32.5,30],[33.5,60],[34.5,78],[35.5,60],[36,78],[37.7,0]];
const h1651=[[0,72],[1,65],[2,75],[3,50],[4,70],[5,60],[6,75],[7,45],[8,62],[10,30],[11,55],[12,40],[13,65],[14,50],[16,35],[18,55],[19,40],[20,60],[21,45],[22,28],[24,50],[26,65],[27,35],[28,70],[29,55],[30,40],[31,72],[32,20],[33,5],[34,45],[35,65],[37,72],[38,55],[39,70],[40,60],[41,40],[42,55],[43,35],[44,50],[46,45],[47,28],[48,60],[49,40],[50,55],[51,35],[52,62],[53,48],[54,30],[55,45],[57,55],[58,40],[60,65],[61,52],[62,68],[63,50],[64,35],[65,60],[66,45],[67,68],[68,55],[69,40],[70,68],[71,35],[72,55],[73,20],[74,48],[75,65],[76,30],[77,5],[78,50],[79,65],[80,40],[81,55],[82,25],[83,62],[84,45],[85,30],[86,58],[87,20],[88,45],[89,62],[90,35],[91,20],[92,50],[93,10],[94,38],[95,62],[96,5],[97,0]];
const h1652=[[0,55],[2,70],[4,45],[6,62],[8,50],[10,40],[12,58],[14,35],[16,62],[18,45],[20,55],[22,30],[24,48],[26,60],[28,38],[30,52],[32,25],[34,45],[36,35],[38,55],[40,30],[42,70],[44,10],[46,35],[48,20],[50,45],[52,25],[54,40],[56,15],[58,50],[60,30],[62,55],[64,20],[66,40],[68,10],[70,35],[72,25],[74,45],[76,15],[78,30],[80,8],[82,35],[84,20],[86,40],[88,5],[90,30],[92,15],[94,70],[96,45],[98,72],[100,55],[102,72],[104,75],[106,60],[108,72],[110,75],[112,50],[114,70],[116,40],[118,72],[120,72],[122,60],[124,20],[126,25],[128,72],[130,40],[132,72],[134,70],[136,50],[137,0]];

// ---- panel labels, histograms, x-axis extents ----
const labels=["1408","1409","1411","1412","1413","1415","1418","1420",
"1422","1443","1446","1451","1461","1462","1464","1468",
"1470","1471","1472","1473","1474","1477","1479","1480",
"1494","1495","1497","1498","1500","1503","1504","1505",
"1506","1508","1518","1520","1523","1525","1526","1527",
"1538","1539","1540","1541","1542","1543","1544","1545",
"1546","1547","1549","1551","1552","1555","1556","1557",
"1558","1559","1560","1561","1563","1567","1569","1570",
"1571","1572","1573","1574","1579","1580","1581","1582",
"1583","1584","1585","1586","1587","1588","1589","1591",
"1592","1594","1596","1599","1600","1630","1631","1636",
"1641","1642","1643","1647","1649","1650","1651","1652"];
const hists=[h1408,h1409,h1411,h1412,h1413,h1415,h1418,h1420,
h1422,h1443,h1446,h1451,h1461,h1462,h1464,h1468,
h1470,h1471,h1472,h1473,h1474,h1477,h1479,h1480,
h1494,h1495,h1497,h1498,h1500,h1503,h1504,h1505,
h1506,h1508,h1518,h1520,h1523,h1525,h1526,h1527,
h1538,h1539,h1540,h1541,h1542,h1543,h1544,h1545,
h1546,h1547,h1549,h1551,h1552,h1555,h1556,h1557,
h1558,h1559,h1560,h1561,h1563,h1567,h1569,h1570,
h1571,h1572,h1573,h1574,h1579,h1580,h1581,h1582,
h1583,h1584,h1585,h1586,h1587,h1588,h1589,h1591,
h1592,h1594,h1596,h1599,h1600,h1630,h1631,h1636,
h1641,h1642,h1643,h1647,h1649,h1650,h1651,h1652];
const xMax=[165,163,170,170,170,170,99,112,
160,160,170,170,170,170,160,160,
160,160,160,160,160,160,160,160,
160,160,160,160,160,160,160,160,
130,130,130,130,145,145,190,180,
132,128,128,125,146,145,200,179,
132,128,125,125,146,145,200,179,
132,128,125,125,146,145,200,179,
132,128,125,125,146,145,200,179,
132,128,125,125,146,145,200,179,
132,128,125,125,140,145,110,147,
150,193,193,85,246,49.6,104,147];
const xStepOverride={"1647":10,"1649":50,"1650":5};
const yTicks=[0,20,40,60,80,100,120,140];
const yMax=151;

// ---- layout geometry (pixels) ----
const W=1277,H=1465;
const colL=[20.5,173.5,330.4,487.3,644.2,801.1,958,1114.9];
const colR=[172.5,329.4,486.3,643.2,800.1,957,1113.9,1271.5];
const blockTop=[4,743], rowStep=118.7, frameH=116.5;
const labelY=[[14.5,134,253,372.5,491.5,612.5],[755,874,993,1112,1231,1351.5]];
const lineColor='rgb(42,42,165)';
const tickFont={family:'Liberation Sans, Arial, sans-serif',size:8,color:'#000',weight:'bold'};

const traces=[], layout={width:W,height:H,margin:{l:0,r:0,t:0,b:0},paper_bgcolor:'#fff',plot_bgcolor:'#fff',showlegend:false,annotations:[],hovermode:false};
for(let k=0;k<labels.length;k++){
  const b=Math.floor(k/48), r=Math.floor((k%48)/8), c=k%8;
  const sfx=k===0?'':String(k+1);
  const top=blockTop[b]+rowStep*r, bot=top+frameH;
  const bottomRow=(r===5);
  const step=xStepOverride[labels[k]]||20;
  const xt=[]; for(let v=(c===0?0:step); v<=xMax[k]-step*0.15; v+=step) xt.push(v);
  const h=hists[k];
  traces.push({type:'scatter',mode:'lines',x:h.map(p=>p[0]),y:h.map(p=>p[1]),
    line:{shape:'hv',color:lineColor,width:1},xaxis:'x'+sfx,yaxis:'y'+sfx,hoverinfo:'skip',cliponaxis:true});
  layout['xaxis'+sfx]={domain:[colL[c]/W,colR[c]/W],anchor:'y'+sfx,range:[0,xMax[k]],
    tickmode:'array',tickvals:xt,ticktext:xt.map(String),showticklabels:bottomRow,tickangle:0,
    ticks:'inside',ticklen:4,tickcolor:'#000',tickwidth:1,tickfont:tickFont,
    minor:{ticks:'inside',ticklen:2,tickcolor:'#000',tick0:0,dtick:step/5,showgrid:false},
    showgrid:true,gridcolor:'#8c8c8c',griddash:'1px,2px',gridwidth:1,zeroline:false,
    showline:true,mirror:true,linecolor:'#333',linewidth:1,fixedrange:true};
  layout['yaxis'+sfx]={domain:[1-bot/H,1-top/H],anchor:'x'+sfx,range:[0,yMax],
    tickmode:'array',tickvals:yTicks,ticktext:yTicks.map(v=>(v===0&&!bottomRow)?'':String(v)),showticklabels:c===0,tickangle:0,
    ticks:'inside',ticklen:4,tickcolor:'#000',tickwidth:1,tickfont:tickFont,
    minor:{ticks:'inside',ticklen:2,tickcolor:'#000',tick0:0,dtick:4,showgrid:false},
    showgrid:true,gridcolor:'#8c8c8c',griddash:'1px,2px',gridwidth:1,zeroline:false,
    showline:true,mirror:true,linecolor:'#333',linewidth:1,fixedrange:true};
  const rx=colR[c]-(c===0?24.5:17.5);
  layout.annotations.push({text:labels[k],xref:'paper',yref:'paper',x:rx/W,y:1-labelY[b][r]/H,
    xanchor:'right',yanchor:'middle',showarrow:false,font:{family:'Liberation Sans, Arial, sans-serif',size:17,color:'#1414ff'}});
}
Plotly.newPlot('chart',traces,layout,{staticPlot:true,displayModeBar:false});
</script>
